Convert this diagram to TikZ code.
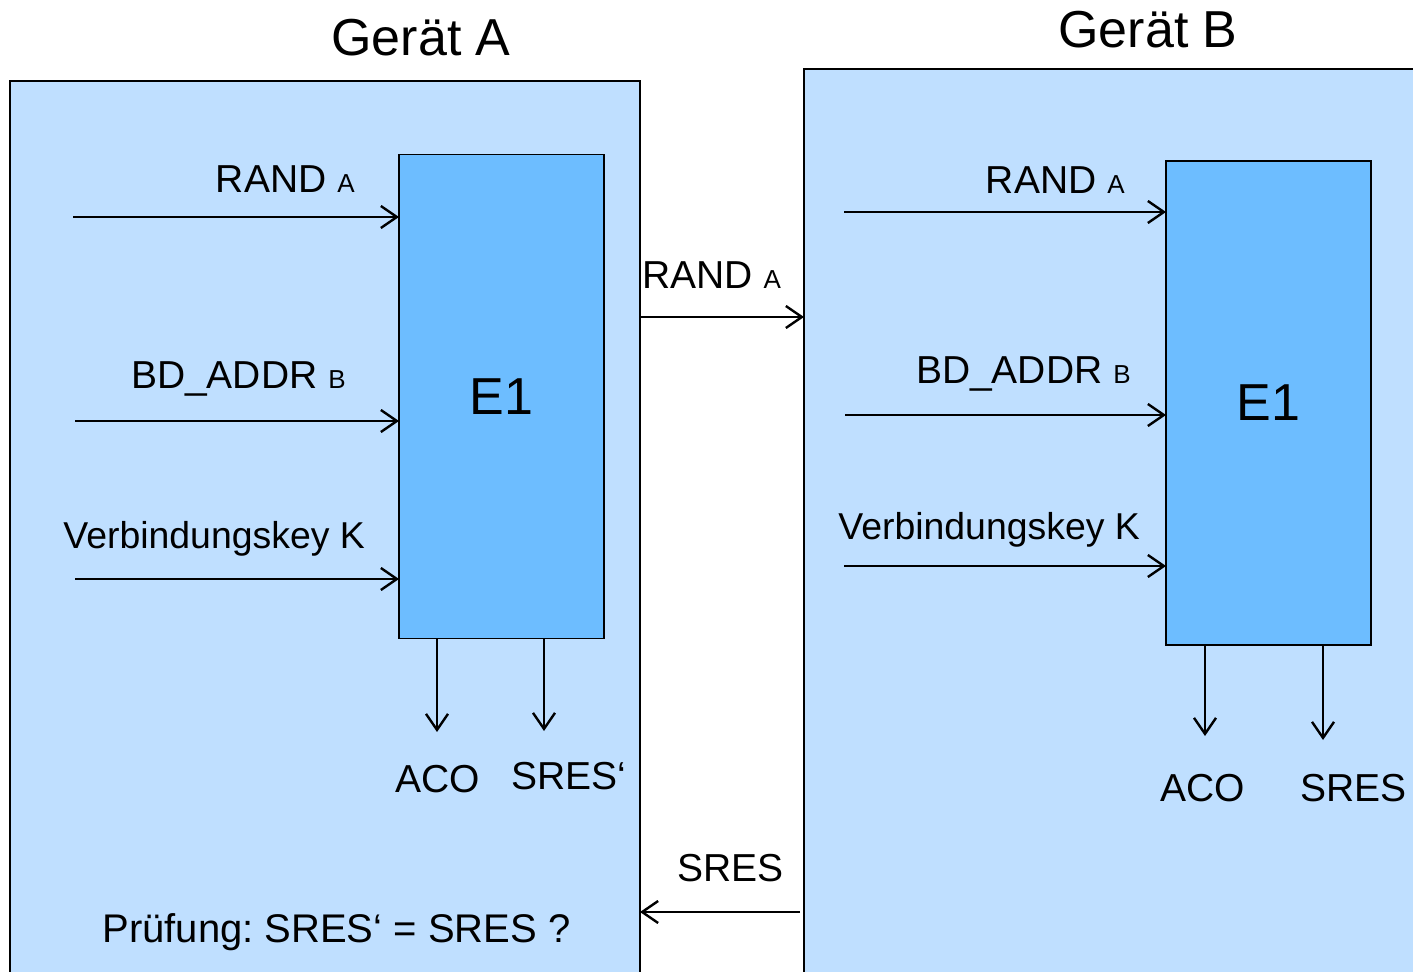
\documentclass[tikz,border=0pt]{standalone}
\usepackage{fontspec}
\setmainfont{Liberation Sans}
\usetikzlibrary{arrows.meta}
\frenchspacing
\definecolor{devfill}{HTML}{BFDFFF}
\definecolor{unitfill}{HTML}{6DBDFF}
\tikzset{
  device/.style={draw=black, line width=1pt, fill=devfill, inner sep=0pt, outer sep=0pt, anchor=north west},
  unit/.style={draw=black, line width=0.8pt, fill=unitfill, inner sep=0pt, outer sep=0pt,
    minimum width=102.5pt, minimum height=242pt, font=\fontsize{26}{30}\selectfont},
  sig/.style={line width=1.2pt, -{Straight Barb[length=8pt,width=11pt,line width=1.2pt]}},
  lbl/.style={inner sep=0pt, font=\fontsize{19.5}{23}\selectfont},
  keylbl/.style={lbl, font=\fontsize{18.7}{22}\selectfont},
  checklbl/.style={lbl, font=\fontsize{20}{24}\selectfont},
  ttl/.style={inner sep=0pt, font=\fontsize{26}{30}\selectfont},
}
\newcommand{\idx}[1]{{\fontsize{13}{15}\selectfont #1}}
\begin{document}
\begin{tikzpicture}[x=0.5pt, y=-0.5pt]
\useasboundingbox (0,0) rectangle (1413,972);
\clip (0,0) rectangle (1413,972);

% the two devices
\node[device, minimum width=315pt, minimum height=450pt] (devA) at (10,81) {};
\node[device, minimum width=310pt, minimum height=456pt] (devB) at (804,69) {};
\node[ttl, anchor=base] (tA) at (421,56) {Gerät A};
\node[ttl, anchor=base] (tB) at (1148,48) {Gerät B};

% E1 units
\node[unit] (e1a) at (501.5,396.5) {E1};
\node[unit] (e1b) at (1268.5,403) {E1};

% inputs of device A
\coordinate (ia1) at (73,217);
\coordinate (ia2) at (75,421);
\coordinate (ia3) at (75,579);
\draw[sig] (ia1) -- (ia1 -| e1a.west);
\draw[sig] (ia2) -- (ia2 -| e1a.west);
\draw[sig] (ia3) -- (ia3 -| e1a.west);
\node[lbl, anchor=base east] (la1) at (355,193) {RAND \idx{A}};
\node[lbl, anchor=base east] (la2) at (346,389) {BD\_ADDR \idx{B}};
\node[keylbl, anchor=base west] (la3) at (63,549) {Verbindungskey K};

% outputs of device A
\coordinate (oa1) at (437,732);
\coordinate (oa2) at (544,731);
\draw[sig] (oa1 |- e1a.south) -- (oa1);
\draw[sig] (oa2 |- e1a.south) -- (oa2);
\node[lbl, anchor=base] (aco1) at (438,792) {ACO};
\node[lbl, anchor=base west] (sr1) at (511,789) {SRES‘};
\node[checklbl, anchor=base west] (chk) at (102,942) {Prüfung: SRES‘ = SRES ?};

% inputs of device B
\coordinate (ib1) at (844,212);
\coordinate (ib2) at (845,415);
\coordinate (ib3) at (844,566);
\draw[sig] (ib1) -- (ib1 -| e1b.west);
\draw[sig] (ib2) -- (ib2 -| e1b.west);
\draw[sig] (ib3) -- (ib3 -| e1b.west);
\node[lbl, anchor=base east] (lb1) at (1125,194) {RAND \idx{A}};
\node[lbl, anchor=base east] (lb2) at (1131,384) {BD\_ADDR \idx{B}};
\node[keylbl, anchor=base west] (lb3) at (838,539) {Verbindungskey K};

% outputs of device B
\coordinate (ob1) at (1205,736);
\coordinate (ob2) at (1323,740);
\draw[sig] (ob1 |- e1b.south) -- (ob1);
\draw[sig] (ob2 |- e1b.south) -- (ob2);
\node[lbl, anchor=base] (aco2) at (1203,801) {ACO};
\node[lbl, anchor=base west] (sr2) at (1300,801) {SRES};

% exchange between the devices
\coordinate (xr) at (0,317);
\coordinate (xs) at (800,912);
\draw[sig] (devA.east |- xr) -- (devB.west |- xr);
\node[lbl, anchor=base west] (lx1) at (642,289) {RAND \idx{A}};
\draw[sig] (xs) -- (devA.east |- xs);
\node[lbl, anchor=base east] (lx2) at (784,881) {SRES};
\end{tikzpicture}
\end{document}
